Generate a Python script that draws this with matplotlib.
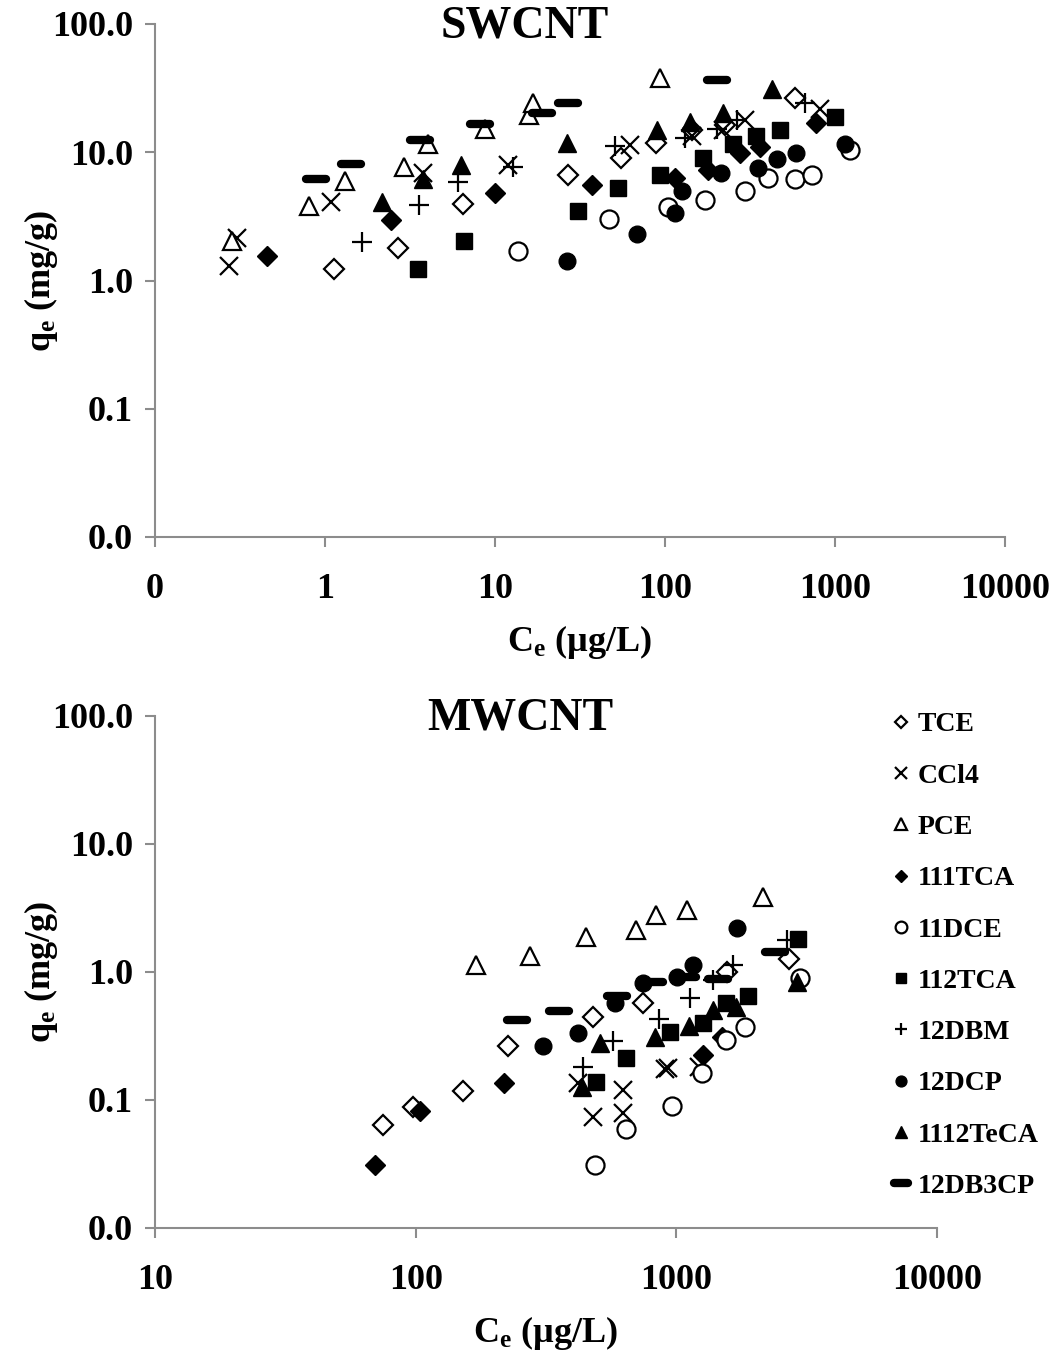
import matplotlib
matplotlib.use('Agg')
import matplotlib.pyplot as plt
from matplotlib.markers import MarkerStyle
import numpy as np

plt.rcParams['font.family'] = ['Liberation Serif', 'DejaVu Serif']
plt.rcParams['font.weight'] = 'bold'
plt.rcParams['mathtext.fontset'] = 'custom'
plt.rcParams['mathtext.rm'] = 'Liberation Serif:bold'
plt.rcParams['mathtext.it'] = 'Liberation Serif:bold'
plt.rcParams['mathtext.bf'] = 'Liberation Serif:bold'

names = ['TCE', 'CCl4', 'PCE', '111TCA', '11DCE', '112TCA', '12DBM', '12DCP', '1112TeCA', '12DB3CP']

# SWCNT data: Ce (ug/L), qe (mg/g)
sw_ce = {
    'TCE': [1.13, 2.69, 6.48, 26.9, 55.1, 88.5, 144, 225, 582],
    'CCl4': [0.272, 0.304, 1.08, 3.77, 11.9, 62.2, 144, 219, 296, 816],
    'PCE': [0.284, 0.805, 1.31, 2.92, 4.04, 8.73, 15.8, 16.7, 93.5],
    '111TCA': [0.456, 2.44, 10.0, 37.2, 115, 179, 276, 362, 773],
    '11DCE': [13.7, 46.9, 104, 172, 296, 403, 582, 732, 1225],
    '112TCA': [3.52, 6.57, 30.8, 52.9, 93.5, 167, 251, 343, 475, 1000],
    '12DBM': [1.65, 3.57, 6.06, 12.8, 50.8, 131, 202, 265, 666],
    '12DCP': [26.5, 68.4, 115, 126, 214, 352, 456, 590, 1146],
    '1112TeCA': [2.17, 3.77, 6.31, 26.5, 89.7, 140, 219, 426],
    '12DB3CP': [0.885, 1.42, 3.62, 8.16, 18.9, 26.9, 202],
}
sw_qe = {
    'TCE': [1.22, 1.78, 3.98, 6.59, 8.94, 11.9, 14.8, 16.2, 26.7],
    'CCl4': [1.29, 2.13, 4.13, 6.95, 8.02, 11.3, 13.5, 14.8, 17.7, 21.9],
    'PCE': [2.05, 3.84, 6.02, 7.74, 11.7, 15.3, 19.4, 24.0, 37.6],
    '111TCA': [1.54, 2.94, 4.77, 5.51, 6.35, 7.21, 9.78, 10.9, 16.8],
    '11DCE': [1.71, 2.99, 3.71, 4.21, 5.03, 6.35, 6.24, 6.59, 10.5],
    '112TCA': [1.24, 2.05, 3.51, 5.31, 6.59, 9.10, 11.7, 13.5, 14.8, 18.7],
    '12DBM': [1.98, 3.91, 5.81, 7.74, 11.1, 13.0, 15.3, 17.7, 24.4],
    '12DCP': [1.43, 2.32, 3.33, 5.03, 6.95, 7.47, 8.78, 9.78, 11.7],
    '1112TeCA': [4.06, 6.24, 8.02, 11.9, 14.8, 17.1, 20.1, 31.4],
    '12DB3CP': [6.24, 8.17, 12.4, 16.5, 20.4, 24.0, 36.9],
}

# MWCNT data
mw_ce = {
    'TCE': [75, 98, 152, 226, 479, 745, 1564, 2704],
    'CCl4': [420, 479, 624, 624, 904, 929, 1222],
    'PCE': [170, 274, 450, 700, 835, 1098, 2149],
    '111TCA': [70, 104, 218, 1265, 1497],
    '11DCE': [487, 641, 962, 1254, 1550, 1832, 2980],
    '112TCA': [492, 641, 945, 1265, 1550, 1882, 2927],
    '12DBM': [438, 571, 857, 1128, 1381, 1648, 2656],
    '12DCP': [308, 420, 581, 745, 1005, 1158, 1708],
    '1112TeCA': [434, 509, 828, 1118, 1381, 1693, 2903],
    '12DB3CP': [245, 355, 592, 813, 1088, 1444, 2389],
}
mw_qe = {
    'TCE': [0.064, 0.088, 0.117, 0.264, 0.445, 0.573, 1.0, 1.26],
    'CCl4': [0.136, 0.074, 0.12, 0.079, 0.175, 0.178, 0.181],
    'PCE': [1.13, 1.33, 1.88, 2.13, 2.79, 3.05, 3.85],
    '111TCA': [0.031, 0.082, 0.136, 0.225, 0.31],
    '11DCE': [0.031, 0.059, 0.090, 0.163, 0.294, 0.372, 0.90],
    '112TCA': [0.138, 0.213, 0.34, 0.40, 0.573, 0.65, 1.81],
    '12DBM': [0.181, 0.289, 0.43, 0.626, 0.866, 1.13, 1.78],
    '12DCP': [0.264, 0.334, 0.573, 0.82, 0.914, 1.13, 2.21],
    '1112TeCA': [0.126, 0.279, 0.31, 0.379, 0.505, 0.533, 0.835],
    '12DB3CP': [0.42, 0.50, 0.65, 0.835, 0.922, 0.882, 1.43],
}

sw_xticks = [0.1, 1, 10, 100, 1000, 10000]
sw_xlabels = ['0', '1', '10', '100', '1000', '10000']
mw_xticks = [10, 100, 1000, 10000]
mw_xlabels = ['10', '100', '1000', '10000']
yticks = [0.01, 0.1, 1, 10, 100]
ylabels = ['0.0', '0.1', '1.0', '10.0', '100.0']

dash = MarkerStyle('_', capstyle='round')
styles = {
    'TCE': dict(marker='D', ms=10, mfc='white', mec='black', mew=1.6),
    'CCl4': dict(marker='x', ms=13, mfc='none', mec='black', mew=1.6),
    'PCE': dict(marker='^', ms=13, mfc='white', mec='black', mew=1.6),
    '111TCA': dict(marker='D', ms=10, mfc='black', mec='black', mew=1),
    '11DCE': dict(marker='o', ms=13, mfc='white', mec='black', mew=1.6),
    '112TCA': dict(marker='s', ms=12, mfc='black', mec='black', mew=1),
    '12DBM': dict(marker='+', ms=14, mfc='none', mec='black', mew=1.6),
    '12DCP': dict(marker='o', ms=12, mfc='black', mec='black', mew=1),
    '1112TeCA': dict(marker='^', ms=13, mfc='black', mec='black', mew=1),
    '12DB3CP': dict(marker=dash, ms=15, mfc='black', mec='black', mew=6),
}

grey = '#8c8c8c'
fig = plt.figure(figsize=(10.6, 13.59), dpi=100)
ax1 = fig.add_axes([155/1060, 1-537/1359, 850/1060, 513/1359])
ax2 = fig.add_axes([155/1060, 1-1228/1359, 782/1060, 512/1359])


def style_axis(ax, xticks, xlabels, xlim):
    ax.set_xscale('log')
    ax.set_yscale('log')
    ax.set_xlim(xlim)
    ax.set_ylim(0.01, 100)
    ax.set_xticks(xticks)
    ax.set_xticklabels(xlabels)
    ax.set_yticks(yticks)
    ax.set_yticklabels(ylabels)
    ax.minorticks_off()
    for s in ['top', 'right']:
        ax.spines[s].set_visible(False)
    for s in ['left', 'bottom']:
        ax.spines[s].set_color(grey)
        ax.spines[s].set_linewidth(1.5)
    ax.tick_params(axis='both', direction='out', color=grey, width=1.5, length=7, labelsize=26)
    ax.tick_params(axis='x', pad=19)
    ax.tick_params(axis='y', pad=9)
    ax.set_xlabel(r'C$_\mathrm{e}$ (µg/L)', fontsize=26, fontweight='bold', labelpad=12)
    ax.set_ylabel(r'q$_\mathrm{e}$ (mg/g)', fontsize=26, fontweight='bold', labelpad=-6)


for n in names:
    ax1.plot(sw_ce[n], sw_qe[n], linestyle='none', label=n, clip_on=False, **styles[n])
    ax2.plot(mw_ce[n], mw_qe[n], linestyle='none', label=n, clip_on=False, **styles[n])

style_axis(ax1, sw_xticks, sw_xlabels, (0.1, 10000))
style_axis(ax2, mw_xticks, mw_xlabels, (10, 10000))

fig.text(525/1060, 1-27/1359, 'SWCNT', fontsize=33, fontweight='bold', ha='center', va='center')
fig.text(520/1060, 1-718/1359, 'MWCNT', fontsize=33, fontweight='bold', ha='center', va='center')

leg = ax2.legend(loc='upper left', bbox_to_anchor=(893/1060, 1-712/1359), bbox_transform=fig.transFigure,
                 frameon=False, prop={'size': 20, 'weight': 'bold'}, markerscale=0.65,
                 handlelength=0.6, handletextpad=0.3, labelspacing=0.93, borderpad=0, borderaxespad=0)

fig.savefig('out.png', dpi=100)
